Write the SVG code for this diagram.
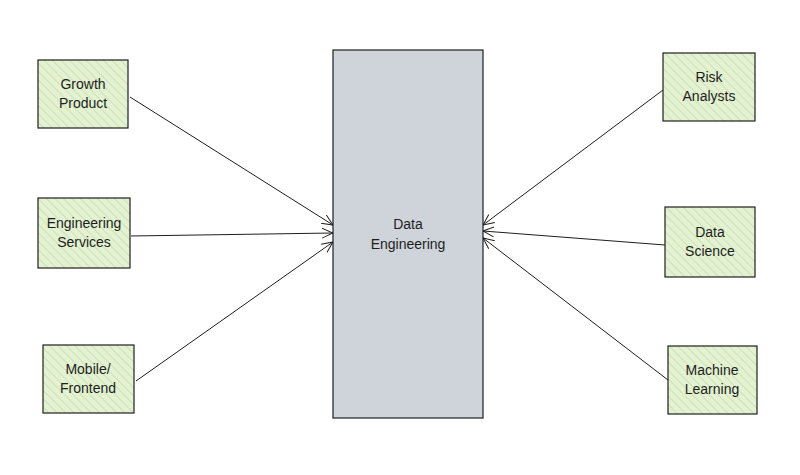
<svg xmlns="http://www.w3.org/2000/svg" width="800" height="475" viewBox="0 0 800 475">
<defs>
<pattern id="h" width="6" height="6" patternUnits="userSpaceOnUse" patternTransform="rotate(-45)">
<rect width="6" height="6" fill="#e4f2d3"/><line x1="0" y1="0" x2="0" y2="6" stroke="#b9d99a" stroke-width="1.2"/>
</pattern>
<marker id="a" viewBox="0 0 12 12" refX="11" refY="6" markerWidth="12" markerHeight="12" orient="auto" markerUnits="userSpaceOnUse">
<path d="M0,1 L11,6 L0,11" fill="none" stroke="#1e1e1e" stroke-width="1"/>
</marker>
<style>
.n{fill:url(#h);stroke:#1e1e1e;stroke-width:1.2}
.t{font-family:"Liberation Sans",sans-serif;font-size:14px;fill:#1e1e1e;text-anchor:middle}
.c{stroke:#1e1e1e;stroke-width:1;fill:none;marker-end:url(#a)}
</style>
</defs>
<rect width="800" height="475" fill="#fff"/>
<g id="connectors">
<line class="c" x1="130" y1="97" x2="333" y2="225"/>
<line class="c" x1="131" y1="236" x2="333" y2="233"/>
<line class="c" x1="136" y1="381" x2="333" y2="242"/>
<line class="c" x1="663" y1="90" x2="483" y2="225"/>
<line class="c" x1="665" y1="245" x2="483" y2="231"/>
<line class="c" x1="668" y1="380" x2="483" y2="238"/>
</g>
<g id="data-engineering"><rect x="333" y="50" width="150" height="368" fill="#ced4da" stroke="#1e1e1e" stroke-width="1.2"/>
<text class="t" x="408" y="229">Data</text><text class="t" x="408" y="249">Engineering</text></g>
<g id="growth-product"><rect class="n" x="38" y="60" width="90" height="68"/><text class="t" x="83" y="89">Growth</text><text class="t" x="83" y="108">Product</text></g>
<g id="engineering-services"><rect class="n" x="38" y="198" width="92" height="70"/><text class="t" x="84" y="228">Engineering</text><text class="t" x="84" y="247">Services</text></g>
<g id="mobile-frontend"><rect class="n" x="43" y="345" width="91" height="68"/><text class="t" x="88" y="374">Mobile/</text><text class="t" x="88" y="393">Frontend</text></g>
<g id="risk-analysts"><rect class="n" x="663" y="53" width="92" height="68"/><text class="t" x="709" y="82">Risk</text><text class="t" x="709" y="101">Analysts</text></g>
<g id="data-science"><rect class="n" x="665" y="207" width="90" height="70"/><text class="t" x="710" y="237">Data</text><text class="t" x="710" y="256">Science</text></g>
<g id="machine-learning"><rect class="n" x="668" y="346" width="89" height="68"/><text class="t" x="712" y="375">Machine</text><text class="t" x="712" y="394">Learning</text></g>
</svg>
